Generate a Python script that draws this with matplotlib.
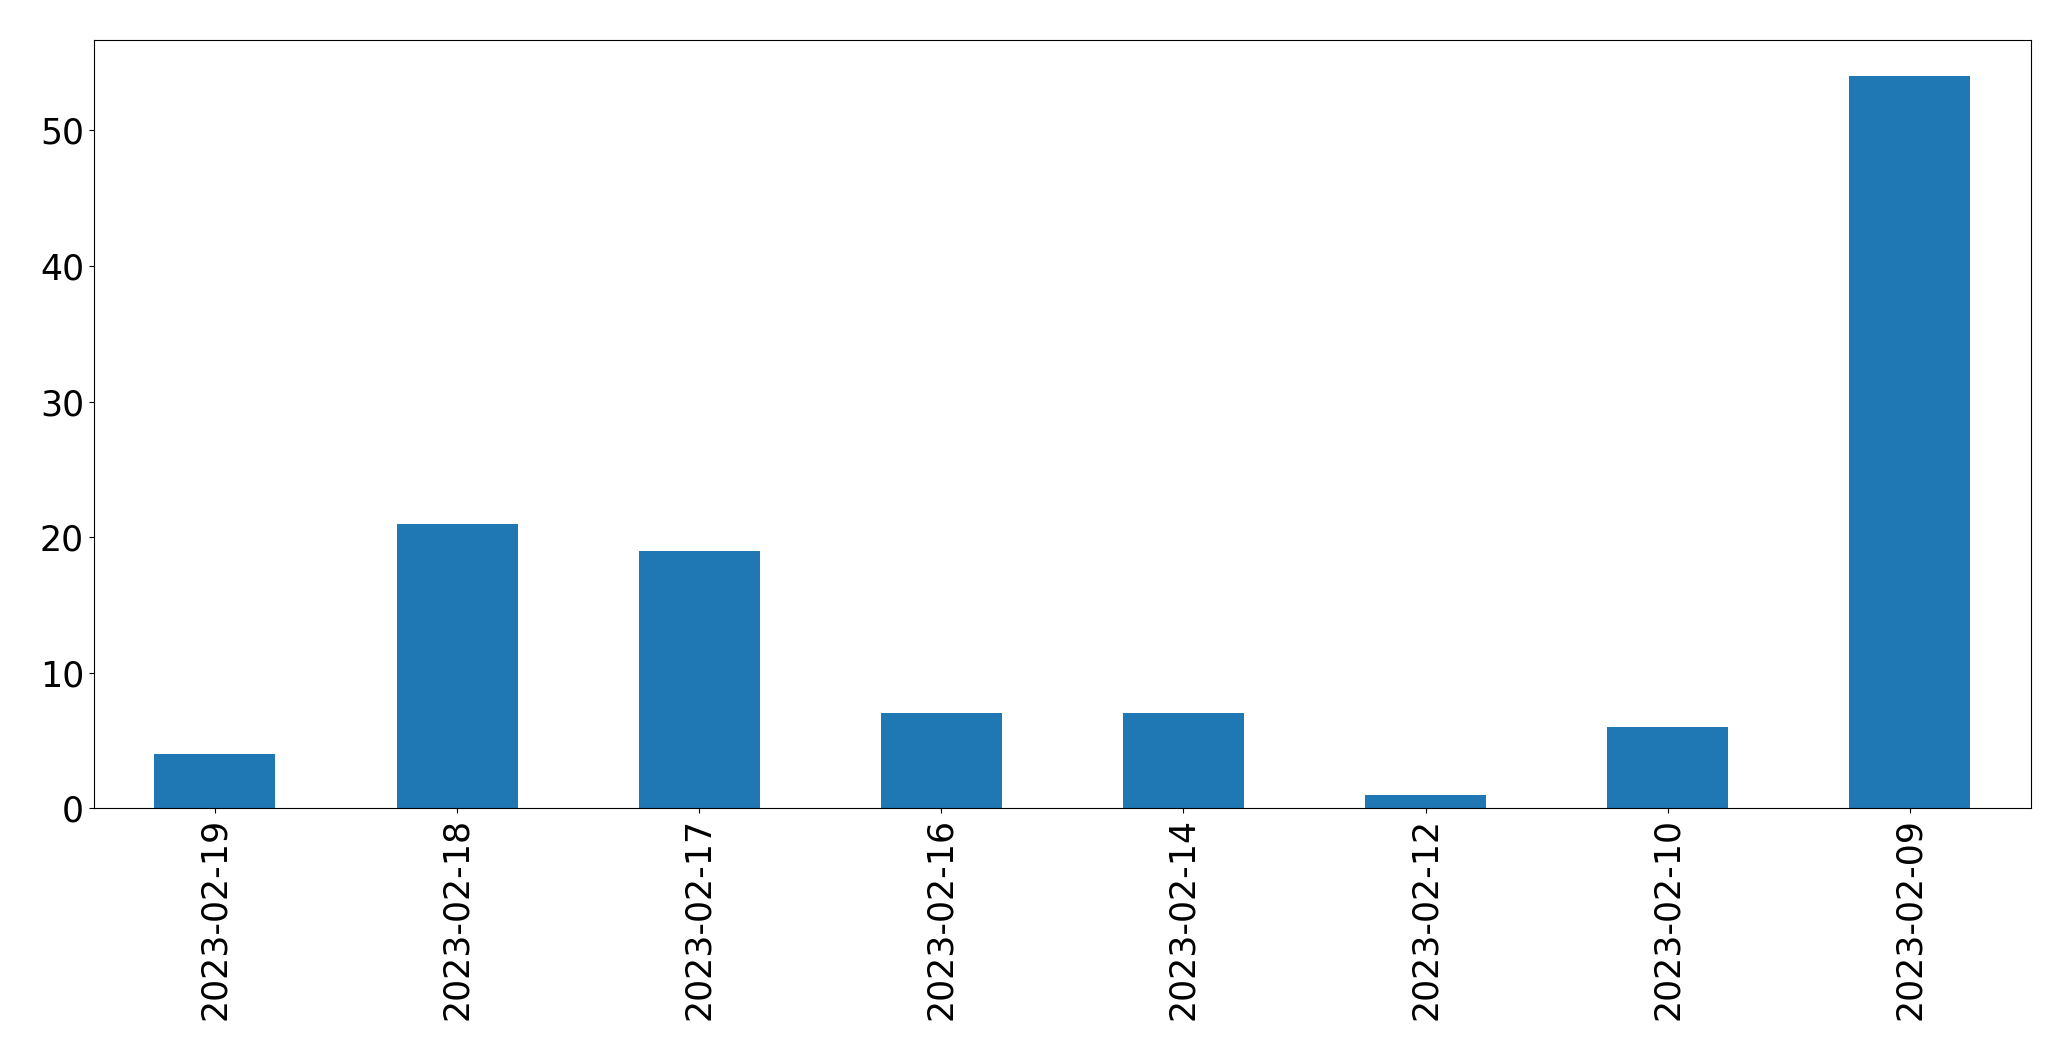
import matplotlib
matplotlib.use("Agg")
import matplotlib.pyplot as plt

dates = ["2023-02-19", "2023-02-18", "2023-02-17", "2023-02-16",
         "2023-02-14", "2023-02-12", "2023-02-10", "2023-02-09"]
counts = [4, 21, 19, 7, 7, 1, 6, 54]

fig = plt.figure(figsize=(20.71, 10.61), dpi=100)
ax = fig.add_axes([0.0453, 0.2381, 0.9354, 0.7246])

x = list(range(len(dates)))
ax.bar(x, counts, width=0.5, color="#1f77b4")
ax.set_xlim(-0.5, len(dates) - 0.5)
ax.set_ylim(0, max(counts) * 1.05)
ax.set_xticks(x)
ax.set_xticklabels(dates, rotation=90)
ax.tick_params(labelsize=25)

fig.savefig("out.png", dpi=100)
